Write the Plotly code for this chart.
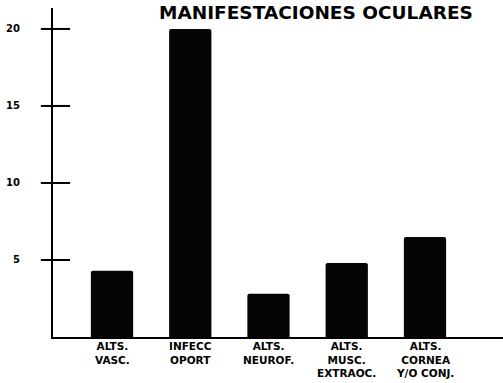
import plotly.graph_objects as go

# Ocular manifestations: number of cases per category
categories = [["ALTS.", "VASC."], ["INFECC", "OPORT"], ["ALTS.", "NEUROF."],
              ["ALTS.", "MUSC.", "EXTRAOC."], ["ALTS.", "CORNEA", "Y/O CONJ."]]
cases = [4.3, 20, 2.8, 4.8, 6.5]
y_ticks = [5, 10, 15, 20]
title_text = "MANIFESTACIONES OCULARES"

FONT = "DejaVu Sans, sans-serif"

positions = list(range(len(categories)))

fig = go.Figure(
    go.Bar(
        x=positions,
        y=cases,
        marker=dict(color="#050505", line=dict(width=0)),
        width=0.54,
    )
)

# Tick marks that cross the vertical axis
tick_shapes = [
    dict(type="line", xref="paper", yref="y", x0=-0.027, x1=0.038,
         y0=v, y1=v, line=dict(color="black", width=2))
    for v in y_ticks
]

# Stacked category labels under each bar
label_annots = [
    dict(
        text="<br>".join(f"<b>{line}</b>" for line in lines),
        x=pos, y=0, xref="x", yref="y",
        xanchor="center", yanchor="top", yshift=-2, align="center",
        borderpad=0,
        showarrow=False, font=dict(family=FONT, size=10.5, color="black"),
    )
    for pos, lines in zip(positions, categories)
]

title_annot = dict(
    text=f"<b>{title_text}</b>", xref="paper", yref="paper",
    x=0.585, y=1, xanchor="center", yanchor="top", yshift=8,
    showarrow=False, font=dict(family=FONT, size=18.5, color="black"),
)

fig.update_layout(
    width=503, height=383,
    margin=dict(l=53, r=0, t=8, b=46),
    paper_bgcolor="white", plot_bgcolor="white",
    showlegend=False,
    barcornerradius=2,
    shapes=tick_shapes,
    annotations=[title_annot] + label_annots,
)

fig.update_xaxes(
    range=[-0.754, 4.997], showticklabels=False,
    ticks="", showgrid=False, zeroline=False,
    showline=True, linecolor="black", linewidth=2,
)
fig.update_yaxes(
    range=[0, 21.36],
    tickmode="array", tickvals=y_ticks,
    ticktext=[f"<b>{v}</b>" for v in y_ticks],
    tickfont=dict(family=FONT, size=10, color="black"),
    ticks="", ticklabelstandoff=29, showgrid=False, zeroline=False,
    showline=True, linecolor="black", linewidth=2,
)

fig.write_html("out.html")
